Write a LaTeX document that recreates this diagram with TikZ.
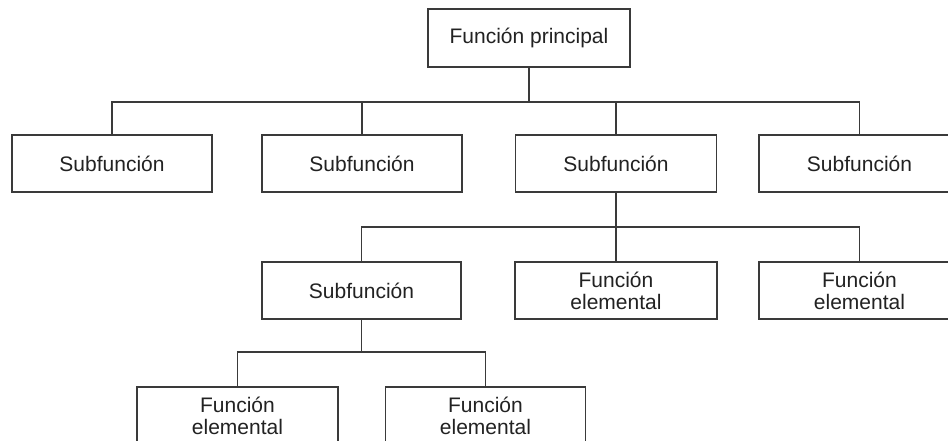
\documentclass[tikz,border=0pt]{standalone}
\usepackage{fontspec}
\setmainfont{Liberation Sans}
\definecolor{linecol}{HTML}{3A3A3A}
\definecolor{textcol}{HTML}{222222}
\begin{document}
\begin{tikzpicture}[x=1pt,y=-1pt,
  fbox/.style={draw=linecol, line width=1.4pt, fill=white, inner sep=0pt,
    minimum width=200pt, minimum height=57pt, align=center,
    text=textcol, font=\fontsize{21}{22}\selectfont},
  conn/.style={draw=linecol, line width=1.4pt}]
\useasboundingbox (0,0) rectangle (948,441);
\clip (0,0) rectangle (948,441);
\fill[white] (0,0) rectangle (948,441);

\node[fbox, minimum width=202pt, minimum height=58pt] (top) at (529,38) {Función principal};

\node[fbox] (s1) at (112,163.5) {Subfunción};
\node[fbox] (s2) at (362,163.5) {Subfunción};
\node[fbox, minimum width=201pt] (s3) at (616,163.5) {Subfunción};
\node[fbox, minimum width=201pt] (s4) at (859.5,163.5) {Subfunción};

\node[fbox, minimum width=199pt] (b1) at (361.5,290.5) {Subfunción};
\node[fbox, minimum width=202pt] (b2) at (616,290.5) {Función\\elemental};
\node[fbox, minimum width=201pt] (b3) at (859.5,290.5) {Función\\elemental};

\node[fbox, minimum width=201pt, minimum height=58pt] (c1) at (237.5,416) {Función\\elemental};
\node[fbox, minimum width=200pt, minimum height=58pt] (c2) at (485.5,416) {Función\\elemental};

\coordinate (h1) at (0,102);
\coordinate (h2) at (0,227);
\coordinate (h3) at (0,352);

% level 1
\draw[conn] (top.south) -- (top.south |- h1);
\draw[conn] (s1.north) |- (s4.north |- h1) -- (s4.north);
\draw[conn] (s2.north) -- (s2.north |- h1);
\draw[conn] (s3.north) -- (s3.north |- h1);

% level 2
\draw[conn] (s3.south) -- (b2.north);
\draw[conn] (b1.north) |- (b3.north |- h2) -- (b3.north);

% level 3
\draw[conn] (b1.south) -- (b1.south |- h3);
\draw[conn] (c1.north) |- (c2.north |- h3) -- (c2.north);
\end{tikzpicture}
\end{document}
